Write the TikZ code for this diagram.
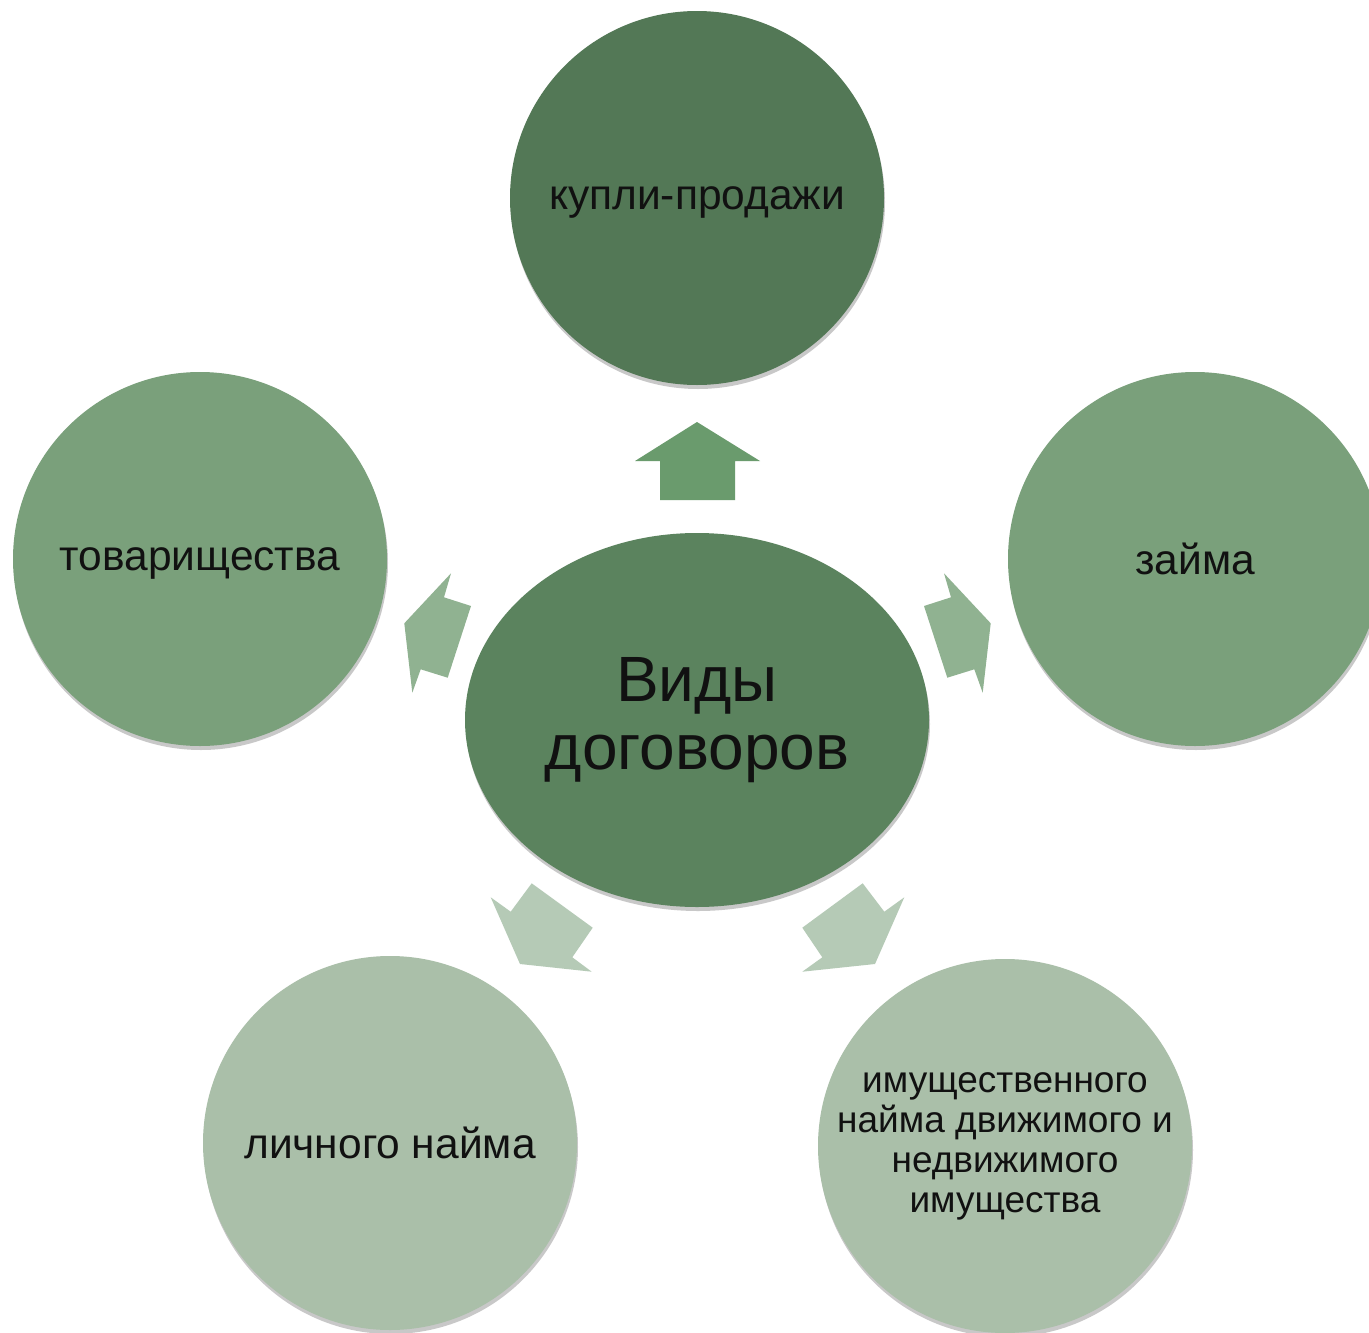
\documentclass[tikz,border=0pt]{standalone}
\usepackage{fontspec}
\setmainfont{Liberation Sans}
\usetikzlibrary{shapes.geometric,shadows}
\definecolor{cTop}{HTML}{537856}
\definecolor{cCenter}{HTML}{5B835E}
\definecolor{cMid}{HTML}{7AA07B}
\definecolor{cLow}{HTML}{AABFA9}
\definecolor{aTop}{HTML}{6A9B6D}
\definecolor{aMid}{HTML}{90B291}
\definecolor{aLow}{HTML}{B5CAB6}
\definecolor{txt}{HTML}{111111}
\tikzset{
  soft/.style={drop shadow={shadow xshift=1pt,shadow yshift=-4pt,opacity=0.3,fill=black!70}},
  bubble/.style={circle,minimum size=374pt,inner sep=0pt,text=txt,align=center,soft,
    font=\fontsize{42.5}{48}\selectfont},
  oneline/.style={text depth=0pt},
  smalltext/.style={font=\fontsize{37}{40}\selectfont},
  hub/.style={ellipse,minimum width=464pt,minimum height=374pt,inner sep=0pt,fill=cCenter,
    text=txt,align=center,soft,font=\fontsize{64}{68}\selectfont}
}
\begin{document}
\begin{tikzpicture}[x=1pt,y=-1pt]
\useasboundingbox (0,0) rectangle (1369,1333);
\fill[white] (0,0) rectangle (1369,1333);

% arrows
\fill[aTop] (697,422) -- (760,461) -- (735,461) -- (735,500) -- (660,500) -- (660,461) -- (635,461) -- cycle;
\fill[aMid] (451,573.3) -- (444,597.3) -- (471,606) -- (447.7,677.7) -- (420.7,669.3) -- (412.3,692.7) -- (404.3,623.3) -- cycle;
\fill[aMid] (944,573.3) -- (951,597.3) -- (924,606) -- (947.3,677.7) -- (974.3,669.3) -- (982.7,692.7) -- (990.7,623.3) -- cycle;
\fill[aLow] (531.7,883.3) -- (510.7,911.7) -- (490.7,897.3) -- (520,964) -- (591.7,971.7) -- (572.3,957.3) -- (592.7,927.7) -- cycle;
\fill[aLow] (862.7,883.3) -- (884.3,911.7) -- (904.3,897.3) -- (875,964) -- (802.3,971.7) -- (822.3,957.3) -- (802.3,927.7) -- cycle;

% nodes
\node[hub] (center) at (697,720) {Виды\\договоров};
\node[bubble,oneline,fill=cTop] (top) at (697,198) {купли-продажи};
\node[bubble,oneline,fill=cMid] (left) at (200,559) {товарищества};
\node[bubble,oneline,fill=cMid] (right) at (1195,559) {займа};
\node[bubble,oneline,fill=cLow] (bl) at (390,1143) {личного найма};
\node[bubble,fill=cLow,smalltext] (br) at (1005,1146) {имущественного\\найма движимого и\\недвижимого\\имущества};
\end{tikzpicture}
\end{document}
